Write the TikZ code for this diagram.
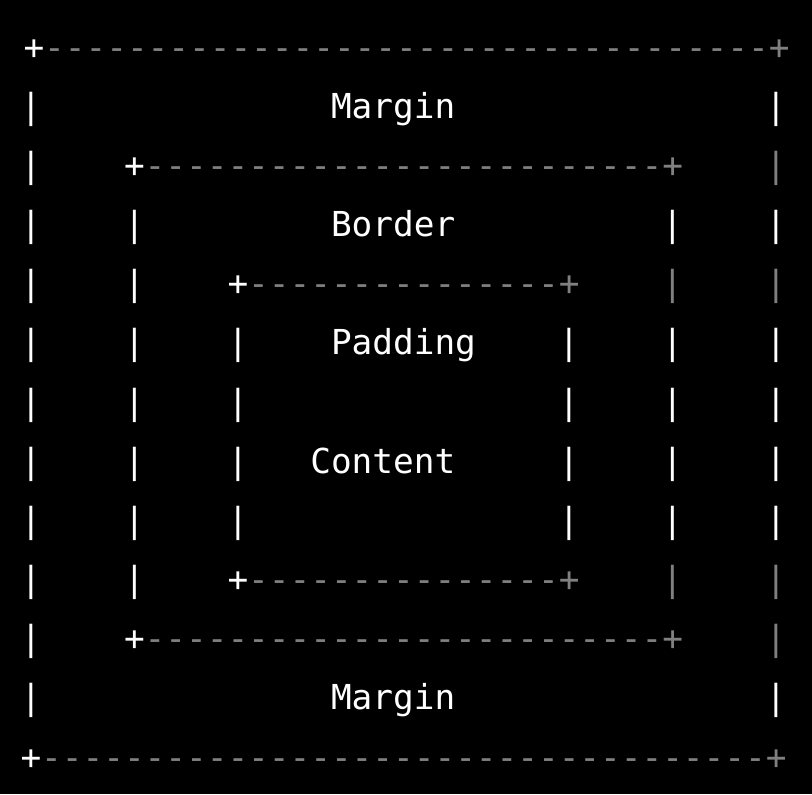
\documentclass[tikz,border=0pt]{standalone}
\usepackage{fontspec}
\setmonofont{DejaVu Sans Mono}
\definecolor{dimgray}{HTML}{808080}

\begin{document}
\begin{tikzpicture}[x=15.525pt,y=-44.38pt]
	\tikzset{ch/.style={anchor=base west,inner sep=0pt,text=white,font=\ttfamily\fontsize{25.79}{30}\selectfont},
		dim/.style={ch,text=dimgray}}
	\fill[black] (-15.2pt,44.3pt) rectangle (593.8pt,-551.2pt);
	% outer box (margin)
	\node [ch, xshift=2.25pt] (mtl) at (0,0) {+};
	\node [dim, xshift=2.25pt] (mtop) at (1,0) {-----------------------------------+};
	\node [ch] (mbl) at (0,12) {+};
	\node [dim] (mbot) at (1,12) {-----------------------------------+};
	\node [ch] (margintop) at (15,1) {Margin};
	\node [ch] (marginbot) at (15,11) {Margin};
	% border box
	\node [ch] (btl) at (5,2) {+};
	\node [dim] (btop) at (6,2) {-------------------------+};
	\node [ch] (bbl) at (5,10) {+};
	\node [dim] (bbot) at (6,10) {-------------------------+};
	\node [ch] (border) at (15,3) {Border};
	% padding box
	\node [ch] (ptl) at (10,4) {+};
	\node [dim] (ptop) at (11,4) {---------------+};
	\node [ch] (pbl) at (10,9) {+};
	\node [dim] (pbot) at (11,9) {---------------+};
	\node [ch] (padding) at (15,5) {Padding};
	\node [ch] (content) at (14,7) {Content};
	% side bars
	\foreach \r in {1,...,11} \node [ch] (l0-\r) at (0,\r) {|};
	\foreach \r in {3,...,9} \node [ch] (l5-\r) at (5,\r) {|};
	\foreach \r in {5,...,8} {
		\node [ch] (l10-\r) at (10,\r) {|};
		\node [ch] (r26-\r) at (26,\r) {|};
	}
	\foreach \r in {3,5,6,7,8} \node [ch] (r31-\r) at (31,\r) {|};
	\foreach \r in {4,9} \node [dim] (r31-\r) at (31,\r) {|};
	\foreach \r in {1,3,5,6,7,8,11} \node [ch] (r36-\r) at (36,\r) {|};
	\foreach \r in {2,4,9,10} \node [dim] (r36-\r) at (36,\r) {|};
\end{tikzpicture}
\end{document}
